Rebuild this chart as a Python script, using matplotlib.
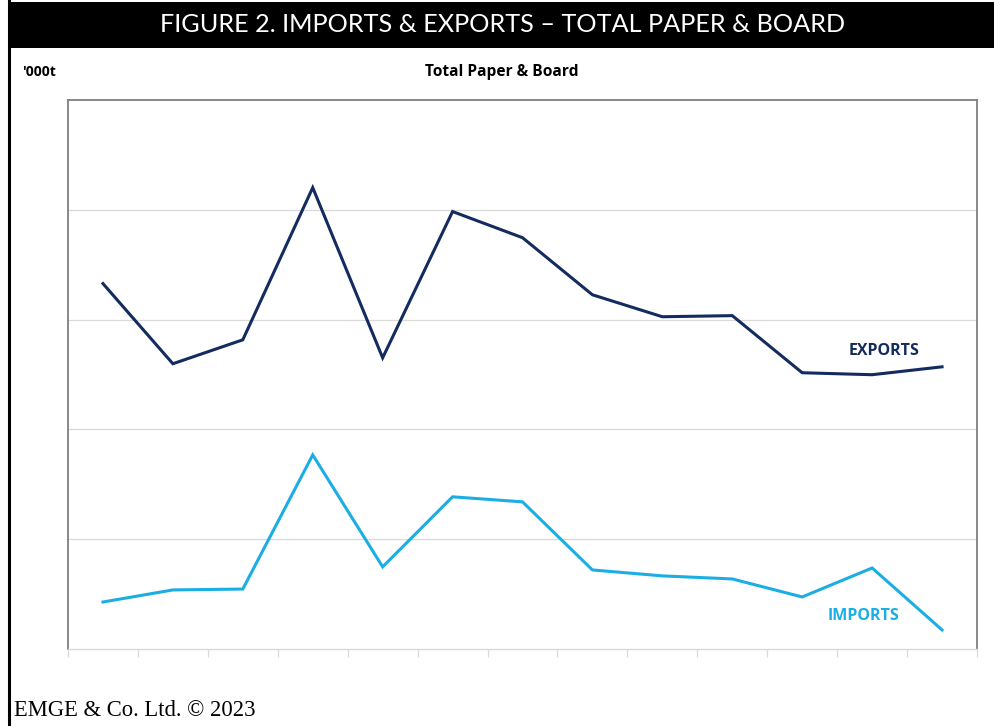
import numpy as np
import matplotlib.pyplot as plt
from matplotlib.patches import Rectangle
from matplotlib.lines import Line2D

# data ('000t - axis has no labels)
years = list(range(2010, 2023))
exports = [1664, 1299, 1408, 2101, 1326, 1992, 1873, 1613, 1513, 1518, 1258, 1249, 1285]
imports = [214, 269, 273, 884, 374, 693, 670, 360, 333, 319, 237, 369, 87]
grid_vals = [500, 1000, 1500, 2000]

navy = '#132B5E'
sky = '#1BAEE4'

fig = plt.figure(figsize=(9.95, 7.26), dpi=100)

# black heading bar and left frame line
fig.add_artist(Rectangle((8 / 995, 1 - 48 / 726), 1, 46 / 726, transform=fig.transFigure,
                         facecolor='black', edgecolor='none'))
fig.add_artist(Line2D([8.5 / 995, 8.5 / 995], [0, 1], transform=fig.transFigure,
                      color='black', lw=2.2))
fig.text(0.505, 1 - 25 / 726, 'FIGURE 2. IMPORTS & EXPORTS \u2013 TOTAL PAPER & BOARD',
         color='white', fontsize=18.2, family='Lato', ha='center', va='center')

fig.text(22 / 995, 1 - 72 / 726, "'000t", fontsize=10, family='Open Sans',
         fontweight='bold', ha='left', va='center')
fig.text(502 / 995, 1 - 72 / 726, 'Total Paper & Board', fontsize=11.2, family='Open Sans',
         fontweight='bold', ha='center', va='center')
fig.text(14 / 995, 1 - 711 / 726, 'EMGE & Co. Ltd. \u00a9 2023', fontsize=16.3,
         family='Liberation Serif', ha='left', va='center')

ax = fig.add_axes([68 / 995, 1 - 649 / 726, 909 / 995, 549 / 726])
x = np.arange(len(years))
ax.plot(x, exports, color=navy, lw=2.2, solid_joinstyle='miter')
ax.plot(x, imports, color=sky, lw=2.2, solid_joinstyle='miter')

ax.set_xlim(-0.5, len(years) - 0.5)
ax.set_ylim(0, 2500)
for g in grid_vals:
    ax.axhline(g, color='#D9D9D9', lw=0.9, zorder=0)

ax.set_xticks(np.arange(-0.5, len(years), 1.0))
ax.set_xticklabels([])
ax.set_yticks([])
ax.tick_params(axis='x', length=6, color='#D9D9D9', width=0.9)
for s in ['left', 'top', 'right']:
    ax.spines[s].set_color('#7F7F7F')
    ax.spines[s].set_linewidth(1.3)
ax.spines['bottom'].set_color('#D9D9D9')
ax.spines['bottom'].set_linewidth(1.0)

ax.text(len(years) - 1.83, 1355, 'EXPORTS', color=navy, fontsize=11.5, family='Open Sans',
        fontweight='bold', ha='center', va='center')
ax.text(len(years) - 2.13, 152, 'IMPORTS', color=sky, fontsize=11.5, family='Open Sans',
        fontweight='bold', ha='center', va='center')

fig.savefig('out.png', dpi=100)
